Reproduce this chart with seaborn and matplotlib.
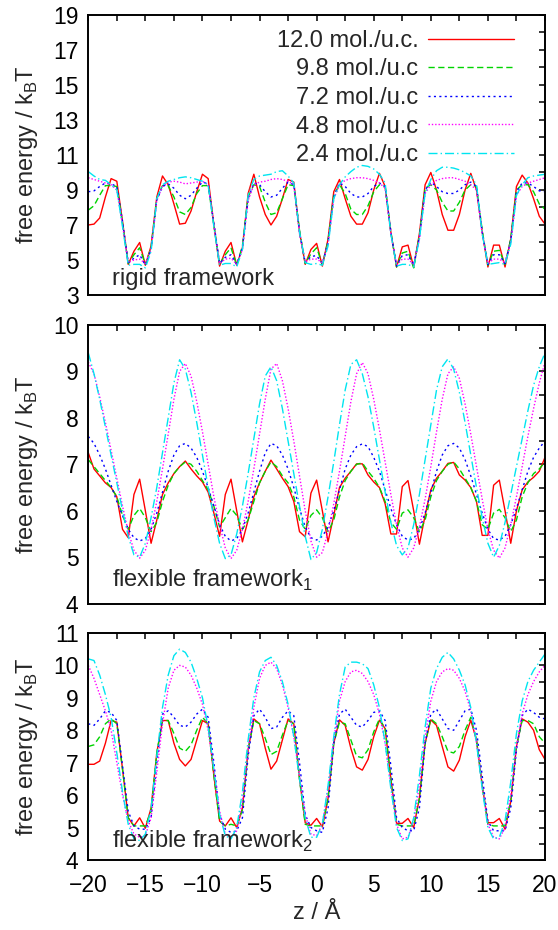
import numpy as np
import matplotlib
matplotlib.use('Agg')
import matplotlib.pyplot as plt
import seaborn as sns
from matplotlib.ticker import MultipleLocator, FixedLocator

# z positions (0.5 A steps)
z = np.arange(-20, 20.25, 0.5)

labels = ['12.0 mol./u.c.', '9.8 mol./u.c', '7.2 mol./u.c', '4.8 mol./u.c', '2.4 mol./u.c']

# rigid framework
rigid_120 = [7.0, 7.05, 7.4, 8.6, 9.65, 9.5, 7.2, 4.75, 5.5, 6.0,
             4.7, 5.8, 8.6, 9.8, 9.3, 8.2, 7.05, 7.1, 7.8, 8.9,
             9.9, 9.65, 7.0, 4.65, 5.5, 6.0, 4.7, 5.7, 8.8, 9.9,
             8.6, 7.6, 7.0, 7.5, 8.5, 9.6, 9.45, 6.6, 4.75, 5.6,
             5.95, 4.65, 6.2, 8.9, 9.6, 8.5, 7.5, 7.05, 7.05, 7.7,
             9.0, 9.95, 9.2, 6.6, 4.6, 5.75, 5.85, 4.6, 6.5, 9.3,
             10.0, 9.0, 7.6, 6.7, 6.7, 7.6, 9.0, 9.95, 9.0, 6.6,
             4.6, 5.85, 5.85, 4.6, 6.2, 9.2, 9.85, 9.4, 8.5, 7.5,
             7.05]
rigid_98 = [7.85, 8.1, 8.7, 9.25, 9.25, 9.2, 7.1, 4.8, 5.3, 5.7, 4.75, 5.7,
            8.5, 9.25, 9.25, 8.6, 7.75, 7.6, 8.0, 8.8, 9.25, 9.25, 7.0,
            4.75, 5.3, 5.7, 4.7, 5.8,
            8.6, 9.3, 9.2, 8.3, 7.6, 7.7, 8.5, 9.3, 9.25, 6.7,
            4.8, 5.35, 5.7, 4.75, 6.1,
            8.7, 9.3, 8.8, 7.9, 7.6, 7.6, 8.1, 8.9, 9.3, 9.2, 6.6,
            4.6, 5.4, 5.5, 4.55, 6.4,
            9.1, 9.3, 9.0, 8.3, 7.8, 7.8, 8.3, 9.0, 9.3, 9.2, 6.7,
            4.7, 5.5, 5.55, 4.75, 6.2,
            9.0, 9.3, 9.3, 8.9, 8.2, 7.9]
rigid_72 = [8.9, 8.95, 9.2, 9.4, 9.35, 9.2, 7.2, 4.85, 5.1, 5.3, 4.7, 5.6,
            8.4, 9.2, 9.35, 9.1, 8.7, 8.5, 8.7, 9.1, 9.45, 9.35, 7.1,
            4.8, 5.15, 5.3, 4.75, 5.7,
            8.5, 9.4, 9.3, 8.9, 8.6, 8.7, 9.1, 9.45, 9.3, 6.6,
            4.85, 5.2, 5.25, 4.8, 6.0,
            8.6, 9.4, 9.2, 8.8, 8.6, 8.6, 8.8, 9.2, 9.4, 9.2, 6.6,
            4.65, 5.25, 5.3, 4.7, 6.3,
            9.0, 9.45, 9.2, 8.9, 8.8, 8.8, 9.0, 9.3, 9.45, 9.2, 6.6,
            4.75, 5.3, 5.3, 4.8, 6.1,
            8.9, 9.4, 9.4, 9.2, 8.95, 8.9]
rigid_48 = [9.7, 9.6, 9.5, 9.4, 9.3, 9.0, 7.0, 4.85, 5.0, 5.05, 4.8, 5.6,
            8.4, 9.2, 9.45, 9.5, 9.45, 9.35, 9.4, 9.45, 9.5, 9.3, 7.0,
            4.8, 5.05, 5.1, 4.75, 5.6,
            8.4, 9.3, 9.45, 9.5, 9.6, 9.65, 9.6, 9.5, 9.3, 6.5,
            4.9, 5.05, 5.05, 4.85, 5.9,
            8.5, 9.3, 9.55, 9.65, 9.7, 9.7, 9.65, 9.55, 9.4, 9.1, 6.5,
            4.7, 5.05, 5.05, 4.75, 6.2,
            8.8, 9.3, 9.55, 9.65, 9.7, 9.7, 9.6, 9.5, 9.3, 9.0, 6.5,
            4.8, 5.05, 5.05, 4.85, 6.0,
            8.7, 9.2, 9.4, 9.5, 9.6, 9.7]
rigid_24 = [10.05, 9.8, 9.6, 9.55, 9.3, 9.0, 6.9, 4.7, 4.75, 4.75, 4.55, 5.5,
            8.5, 9.3, 9.5, 9.6, 9.7, 9.75, 9.7, 9.6, 9.5, 9.3, 6.9,
            4.7, 4.8, 4.8, 4.6, 5.6,
            8.7, 9.6, 9.8, 9.85, 9.9, 10.05, 10.1, 9.8, 9.4, 6.6,
            4.85, 4.75, 4.8, 4.7, 5.8,
            8.5, 9.3, 9.75, 10.05, 10.3, 10.4, 10.35, 10.2, 9.9, 9.4, 6.5,
            4.65, 4.75, 4.75, 4.6, 6.2,
            8.8, 9.6, 10.1, 10.3, 10.3, 10.25, 10.15, 10.0, 9.8, 9.3, 6.5,
            4.75, 4.8, 4.85, 4.75, 5.9,
            8.7, 9.3, 9.7, 9.8, 9.85, 9.9]

# flexible framework 1
flex1_120 = [7.25, 6.9, 6.75, 6.6, 6.5, 6.3, 5.6, 5.42, 6.35, 6.68,
             6.0, 5.3, 5.8, 6.35, 6.6, 6.8, 6.95, 7.07, 6.9, 6.75,
             6.62, 6.4, 5.95, 5.45, 6.35, 6.68, 6.0, 5.33, 5.8, 6.3,
             6.6, 6.85, 7.09, 6.9, 6.7, 6.52, 6.2, 5.55, 5.44, 6.38,
             6.66, 6.0, 5.33, 5.9, 6.5, 6.7, 6.85, 7.01, 7.01, 6.77,
             6.62, 6.5, 6.15, 5.5, 5.5, 6.52, 6.65, 6.0, 5.28, 5.9,
             6.45, 6.7, 6.85, 7.02, 7.04, 6.77, 6.66, 6.5, 6.2, 5.47,
             5.47, 6.55, 6.66, 6.0, 5.3, 6.0, 6.45, 6.62, 6.72, 6.85,
             7.15]
flex1_98 = [7.1, 6.95, 6.8, 6.65, 6.5, 6.3, 5.9, 5.6, 5.9, 6.05,
            5.85, 5.55, 5.75, 6.2, 6.55, 6.8, 6.95, 7.05, 7.0, 6.85,
            6.65, 6.45, 6.1, 5.65, 5.85, 6.05, 5.9, 5.6, 5.8, 6.2,
            6.6, 6.85, 7.05, 6.95, 6.75, 6.6, 6.3, 5.8, 5.6, 5.9,
            6.02, 5.85, 5.55, 5.8, 6.3, 6.65, 6.85, 7.0, 7.03, 6.85,
            6.7, 6.5, 6.2, 5.75, 5.6, 5.95, 6.02, 5.85, 5.55, 5.8,
            6.3, 6.65, 6.85, 7.0, 7.05, 6.9, 6.7, 6.5, 6.2, 5.7,
            5.6, 5.95, 6.03, 5.85, 5.55, 5.8, 6.3, 6.6, 6.8, 6.9,
            7.05]
flex1_72 = [7.6, 7.45, 7.2, 6.9, 6.55, 6.2, 5.9, 5.6, 5.42, 5.35,
            5.4, 5.6, 5.95, 6.4, 6.85, 7.2, 7.4, 7.45, 7.35, 7.15,
            6.85, 6.5, 6.1, 5.7, 5.45, 5.35, 5.4, 5.6, 5.95, 6.4,
            6.85, 7.25, 7.45, 7.4, 7.2, 6.9, 6.5, 6.05, 5.65, 5.42,
            5.37, 5.45, 5.65, 6.0, 6.45, 6.9, 7.2, 7.38, 7.44, 7.38,
            7.15, 6.85, 6.45, 6.05, 5.7, 5.45, 5.37, 5.4, 5.6, 5.95,
            6.4, 6.85, 7.2, 7.4, 7.45, 7.35, 7.1, 6.75, 6.35, 5.95,
            5.6, 5.4, 5.37, 5.45, 5.7, 6.05, 6.45, 6.85, 7.15, 7.35,
            7.5]
flex1_48 = [9.2, 8.95, 8.45, 7.9, 7.3, 6.7, 6.1, 5.55, 5.15, 4.98,
            5.15, 5.6, 6.2, 6.9, 7.65, 8.4, 9.0, 9.17, 8.9, 8.35,
            7.7, 7.0, 6.3, 5.7, 5.2, 4.97, 5.15, 5.6, 6.2, 6.9,
            7.65, 8.4, 9.05, 9.17, 8.8, 8.2, 7.5, 6.75, 6.0, 5.35,
            5.0, 5.1, 5.55, 6.15, 6.85, 7.6, 8.35, 8.95, 9.19, 8.95,
            8.4, 7.75, 7.05, 6.35, 5.7, 5.2, 5.0, 5.2, 5.65, 6.25,
            6.95, 7.7, 8.4, 8.95, 9.1, 8.85, 8.3, 7.65, 6.95, 6.25,
            5.6, 5.15, 4.98, 5.2, 5.7, 6.3, 6.95, 7.6, 8.2, 8.75,
            9.2]
flex1_24 = [9.4, 8.95, 8.4, 7.8, 7.2, 6.6, 6.0, 5.45, 5.05, 5.0,
            5.3, 5.85, 6.5, 7.25, 8.0, 8.75, 9.25, 9.05, 8.55, 7.9,
            7.2, 6.5, 5.85, 5.3, 4.97, 5.05, 5.5, 6.1, 6.8, 7.55,
            8.3, 8.9, 9.1, 8.8, 8.2, 7.5, 6.8, 6.1, 5.45, 4.95,
            5.1, 5.6, 6.3, 7.05, 7.85, 8.6, 9.15, 9.25, 8.95, 8.45,
            7.8, 7.1, 6.4, 5.75, 5.25, 5.05, 5.2, 5.7, 6.35, 7.1,
            7.85, 8.6, 9.1, 9.27, 9.05, 8.55, 7.9, 7.2, 6.5, 5.85,
            5.3, 5.0, 5.25, 5.75, 6.35, 6.95, 7.55, 8.15, 8.7, 9.1,
            9.4]

# flexible framework 2
flex2_120 = [6.95, 6.95, 7.05, 7.6, 8.3, 8.25, 6.8, 5.3, 5.05, 5.3,
             4.98, 5.6, 7.3, 8.3, 8.3, 7.6, 7.1, 6.9, 7.1, 7.7,
             8.3, 8.2, 6.6, 5.2, 5.05, 5.3, 5.0, 5.6, 7.4, 8.35,
             8.2, 7.45, 6.8, 7.05, 7.7, 8.35, 8.2, 6.5, 5.15, 5.07,
             5.28, 5.02, 5.9, 7.6, 8.32, 8.15, 7.44, 6.87, 6.77, 7.1,
             7.8, 8.31, 8.05, 6.5, 5.13, 5.13, 5.28, 5.0, 5.9, 7.6,
             8.32, 8.15, 7.5, 6.87, 6.74, 7.08, 7.8, 8.31, 7.7, 6.3,
             5.15, 5.15, 5.28, 4.95, 5.8, 7.5, 8.35, 8.25, 8.0, 7.4,
             7.1]
flex2_98 = [7.5, 7.55, 7.8, 8.2, 8.35, 8.2, 6.8, 5.3, 5.05, 5.05,
            5.05, 5.5, 7.3, 8.3, 8.3, 7.9, 7.45, 7.35, 7.55, 8.0,
            8.4, 8.2, 6.6, 5.2, 5.05, 5.1, 5.05, 5.55, 7.4, 8.3,
            8.2, 7.75, 7.25, 7.35, 7.85, 8.3, 8.2, 6.5, 5.1, 5.05,
            5.05, 5.05, 5.9, 7.6, 8.25, 8.2, 7.7, 7.2, 7.15, 7.4,
            7.95, 8.35, 8.05, 6.5, 5.1, 5.05, 5.05, 5.05, 5.9, 7.6,
            8.35, 8.2, 7.8, 7.35, 7.3, 7.5, 8.0, 8.4, 7.7, 6.3,
            5.1, 5.05, 5.05, 5.05, 5.8, 7.5, 8.3, 8.3, 8.2, 7.8,
            7.6]
flex2_72 = [8.2, 8.15, 8.35, 8.6, 8.55, 8.3, 6.9, 5.5, 5.05, 4.95,
            4.95, 5.3, 7.0, 8.5, 8.6, 8.4, 8.15, 8.1, 8.25, 8.5,
            8.65, 8.4, 7.0, 5.4, 4.95, 4.85, 4.9, 5.3, 7.2, 8.45,
            8.65, 8.4, 8.05, 8.1, 8.4, 8.6, 8.45, 7.0, 5.4, 5.0,
            4.9, 4.85, 5.6, 7.6, 8.5, 8.65, 8.4, 8.15, 8.1, 8.3,
            8.55, 8.6, 8.3, 6.9, 5.3, 5.0, 4.9, 4.9, 5.6, 7.6,
            8.5, 8.65, 8.35, 8.05, 8.0, 8.3, 8.6, 8.65, 8.0, 6.6,
            5.2, 4.9, 4.9, 4.9, 5.6, 7.4, 8.45, 8.65, 8.55, 8.4,
            8.35]
flex2_48 = [10.0, 9.6, 9.1, 8.6, 8.0, 7.0, 6.0, 5.2, 4.8, 4.7,
            4.75, 5.3, 6.7, 8.2, 9.3, 9.85, 10.0, 9.95, 9.7, 9.3,
            8.8, 8.0, 6.8, 5.5, 4.8, 4.7, 4.9, 5.8, 7.4, 8.7,
            9.6, 10.0, 10.1, 9.9, 9.4, 8.7, 7.8, 6.6, 5.4, 4.8,
            4.75, 5.1, 6.2, 7.7, 8.9, 9.5, 9.8, 9.85, 9.75, 9.5,
            9.1, 8.5, 7.6, 6.3, 5.1, 4.65, 4.7, 5.2, 6.3, 7.8,
            8.9, 9.5, 9.8, 9.9, 9.85, 9.6, 9.2, 8.6, 7.6, 6.3,
            5.1, 4.7, 4.65, 5.0, 6.0, 7.5, 8.5, 9.1, 9.5, 9.8,
            10.0]
flex2_24 = [10.2, 10.15, 9.7, 9.1, 8.4, 7.3, 6.1, 5.1, 4.65, 4.6,
            4.8, 5.6, 7.2, 8.7, 9.7, 10.3, 10.5, 10.4, 10.1, 9.6,
            9.0, 8.1, 6.8, 5.4, 4.75, 4.65, 5.0, 6.1, 7.7, 9.0,
            9.8, 10.15, 10.25, 10.0, 9.5, 8.8, 7.8, 6.5, 5.3, 4.7,
            4.7, 5.1, 6.3, 7.8, 9.1, 9.95, 10.1, 10.1, 10.05, 9.9,
            9.4, 8.7, 7.6, 6.2, 5.0, 4.6, 4.65, 5.3, 6.6, 8.1,
            9.3, 9.9, 10.25, 10.4, 10.2, 9.85, 9.4, 8.7, 7.6, 6.2,
            5.0, 4.65, 4.7, 5.2, 6.4, 7.9, 8.9, 9.5, 9.85, 10.1,
            10.35]

panels = [
    [rigid_120, rigid_98, rigid_72, rigid_48, rigid_24],
    [flex1_120, flex1_98, flex1_72, flex1_48, flex1_24],
    [flex2_120, flex2_98, flex2_72, flex2_48, flex2_24],
]
panel_text = ['rigid framework',
              'flexible framework$_\\mathregular{1}$',
              'flexible framework$_\\mathregular{2}$']
text_y = [0.036, 0.06, 0.053]
ylims = [(3, 19), (4, 10), (4, 11)]
yticks = [list(range(3, 20, 2)), list(range(4, 11)), list(range(4, 12))]
yminor = [1, 0.5, 0.5]

colors = ['#ff0000', '#00d400', '#0000ff', '#ff00ff', '#00e5f0']
dash_styles = [None, (4.5, 2.5), (1.5, 2.4), (1, 1.4), (6.5, 2.2, 1, 2.2)]

FS = 17

sns.set_style('white')
plt.rcParams['font.family'] = ['Liberation Sans', 'DejaVu Sans']
plt.rcParams['mathtext.fontset'] = 'custom'
plt.rcParams['mathtext.rm'] = 'Liberation Sans'
plt.rcParams['axes.unicode_minus'] = True

fig = plt.figure(figsize=(5.58, 9.30), dpi=100)
ax1 = fig.add_axes([0.1582, 0.6828, 0.8185, 0.3011])
ax2 = fig.add_axes([0.1582, 0.3509, 0.8185, 0.2997])
ax3 = fig.add_axes([0.1582, 0.0753, 0.8185, 0.2441])
axes = [ax1, ax2, ax3]

for i, ax in enumerate(axes):
    for lab, vals, col, dsh in zip(labels, panels[i], colors, dash_styles):
        sns.lineplot(x=z, y=vals, ax=ax, color=col, lw=1.0,
                     label=lab if i == 0 else None, estimator=None, sort=False)
        if dsh is not None:
            ax.lines[-1].set_dashes(dsh)
    if ax.get_legend() is not None:
        ax.get_legend().remove()

    ax.set_xlim(-20, 20)
    ax.set_ylim(*ylims[i])
    ax.xaxis.set_major_locator(MultipleLocator(5))
    ax.xaxis.set_minor_locator(MultipleLocator(2.5))
    ax.yaxis.set_major_locator(FixedLocator(yticks[i]))
    ax.yaxis.set_minor_locator(MultipleLocator(yminor[i]))
    ax.tick_params(which='both', direction='in', top=True, right=True,
                   length=4, width=1.1, labelsize=16.5, colors='black')
    ax.tick_params(axis='y', pad=7)
    ax.tick_params(axis='x', pad=10, labelbottom=(i == 2))
    for sp in ax.spines.values():
        sp.set_linewidth(1.4)
        sp.set_color('black')
    ax.set_ylabel('free energy / k$_\\mathregular{B}$T', fontsize=FS)
    ax.yaxis.set_label_coords(-0.105, 0.5)
    ax.set_xlabel('')
    ax.text(0.051, text_y[i], panel_text[i], transform=ax.transAxes,
            fontsize=FS, va='baseline', ha='left')

ax1.legend(loc='upper right', bbox_to_anchor=(0.933, 0.947), markerfirst=False,
           frameon=False, fontsize=FS, handlelength=3.65, handletextpad=0.42,
           labelspacing=0.28, borderpad=0, borderaxespad=0)

ax3.set_xlabel('z / Å', fontsize=FS)
ax3.xaxis.set_label_coords(0.5, -0.185)

fig.savefig('out.png', dpi=100)
